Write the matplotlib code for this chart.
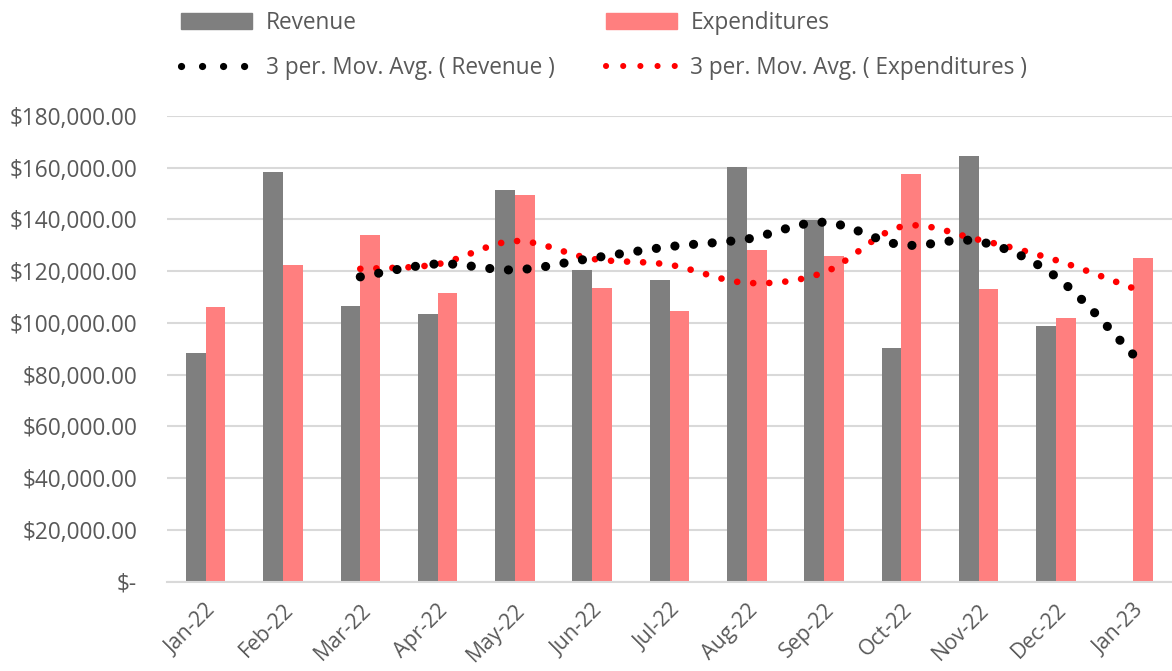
import numpy as np
import matplotlib
matplotlib.use("Agg")
import matplotlib.pyplot as plt
from matplotlib.path import Path
from matplotlib.patches import PathPatch, Patch
from matplotlib.lines import Line2D
from matplotlib.ticker import FuncFormatter

months = ["Jan-22", "Feb-22", "Mar-22", "Apr-22", "May-22", "Jun-22", "Jul-22",
          "Aug-22", "Sep-22", "Oct-22", "Nov-22", "Dec-22", "Jan-23"]
revenue = [88400, 158400, 106700, 103400, 151500, 120300, 116700,
           160300, 139800, 90400, 164400, 98800, 0]
expenditures = [106200, 122500, 134100, 111600, 149300, 113500, 104700,
                128300, 125700, 157700, 113100, 102000, 125100]
y_ticks = [0, 20000, 40000, 60000, 80000, 100000, 120000, 140000, 160000, 180000]

FONT = "Open Sans"
TXT = "#595959"
GRAY = "#7f7f7f"
SALMON = "#ff7f7f"
GRID = "#d9d9d9"

fig = plt.figure(figsize=(11.72, 6.71), dpi=100)
ax = fig.add_axes([0.1425, 0.1331, 0.8575, 0.694])

x = np.arange(len(months))
w = 0.255
ax.bar(x - w / 2, revenue, w, color=GRAY, zorder=2)
ax.bar(x + w / 2, expenditures, w, color=SALMON, zorder=2)


def moving_avg(vals, n=3):
    v = np.asarray(vals, dtype=float)
    return np.convolve(v, np.ones(n) / n, mode="valid")


def smooth_path(xs, ys):
    pts = np.column_stack([xs, ys])
    verts = [pts[0]]
    codes = [Path.MOVETO]
    m = len(pts)
    for i in range(m - 1):
        p0 = pts[i - 1] if i > 0 else pts[i]
        p1 = pts[i]
        p2 = pts[i + 1]
        p3 = pts[i + 2] if i + 2 < m else pts[i + 1]
        c1 = p1 + (p2 - p0) / 6.0
        c2 = p2 - (p3 - p1) / 6.0
        verts += [c1, c2, p2]
        codes += [Path.CURVE4] * 3
    return Path(verts, codes)


ma_rev = moving_avg(revenue)
ma_exp = moving_avg(expenditures)
xm = x[2:]

rev_lw = 6.6
exp_lw = 4.8
rev_ls = (0, (0.01, 2.03))
exp_ls = (0, (0.01, 2.4))

p1 = PathPatch(smooth_path(xm, ma_rev), fill=False, edgecolor="black",
               lw=rev_lw, linestyle=rev_ls, capstyle="round", zorder=4)
p2 = PathPatch(smooth_path(xm, ma_exp), fill=False, edgecolor="red",
               lw=exp_lw, linestyle=exp_ls, capstyle="round", zorder=3)
ax.add_patch(p1)
ax.add_patch(p2)

ax.set_xlim(-0.5, len(months) - 0.5)
ax.set_ylim(0, 180000)
ax.set_yticks(y_ticks)


def fmt(v, pos):
    if v == 0:
        return "$-"
    return "${:,.2f}".format(v)


ax.yaxis.set_major_formatter(FuncFormatter(fmt))
ax.set_xticks(x)
ax.set_xticklabels(months, rotation=45, ha="right", rotation_mode="anchor")

ax.grid(axis="y", color=GRID, lw=1.5, zorder=0)
ax.set_axisbelow(True)
for s in ["top", "right", "left"]:
    ax.spines[s].set_visible(False)
ax.spines["bottom"].set_color(GRID)
ax.spines["bottom"].set_linewidth(1.5)
ax.tick_params(axis="both", length=0, colors=TXT, labelsize=16.3)
ax.tick_params(axis="x", labelsize=15.3)
ax.tick_params(axis="y", pad=21.5)
ax.tick_params(axis="x", pad=13)
for lab in ax.get_xticklabels() + ax.get_yticklabels():
    lab.set_fontfamily(FONT)

handles = [
    Patch(color=GRAY),
    Line2D([0], [0], color="black", lw=5.2, linestyle=(0, (0.01, 2.9)), dash_capstyle="round"),
    Patch(color=SALMON),
    Line2D([0], [0], color="red", lw=4.4, linestyle=(0, (0.01, 2.8)), dash_capstyle="round"),
]
labels = ["Revenue", "3 per. Mov. Avg. ( Revenue )",
          "Expenditures", "3 per. Mov. Avg. ( Expenditures )"]
leg = fig.legend(handles, labels, ncol=2, loc="upper left",
                 bbox_to_anchor=(0.137, 1.014), frameon=False,
                 prop={"family": FONT, "size": 16.3}, labelcolor=TXT,
                 handlelength=3.15, handleheight=0.7, handletextpad=0.6,
                 columnspacing=2.25, labelspacing=0.92)

fig.savefig("out.png", dpi=100)
